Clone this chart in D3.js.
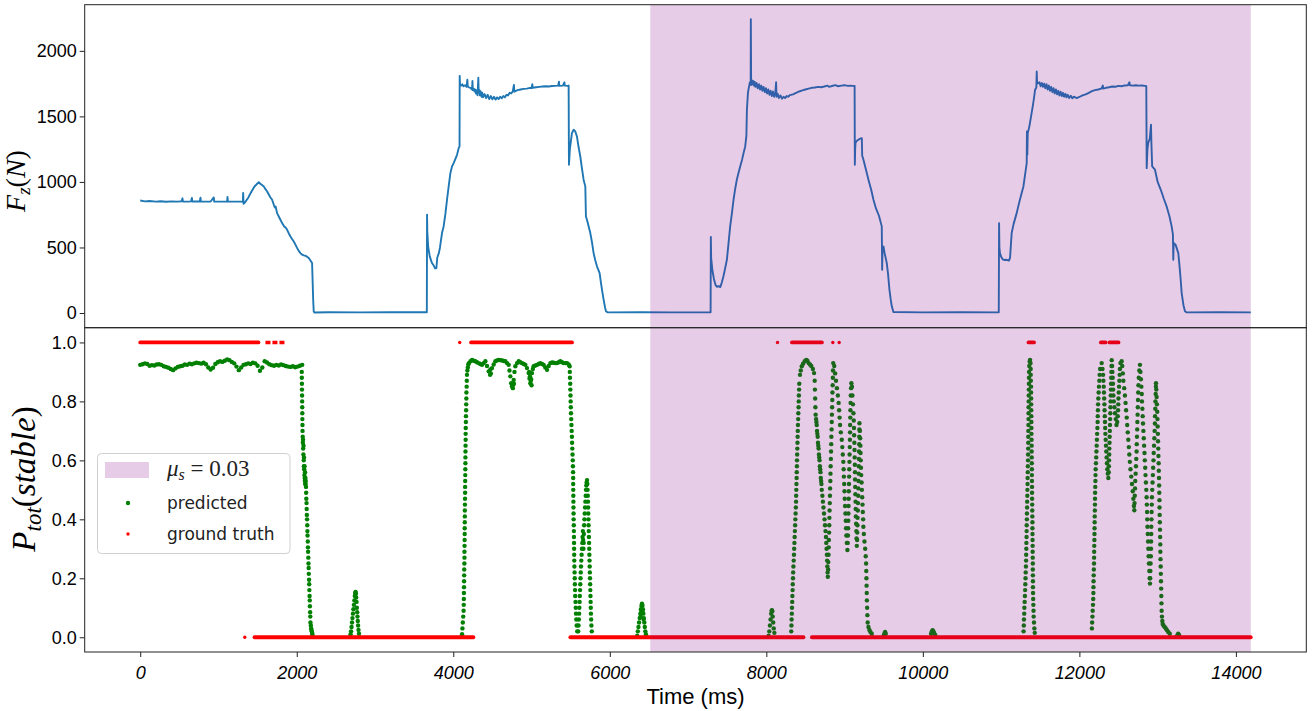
<!DOCTYPE html>
<html>
<head>
<meta charset="utf-8">
<script src="https://cdn.jsdelivr.net/npm/d3@7"></script>
<style>
  body { margin: 0; background: #fff; }
  svg { display: block; }
</style>
</head>
<body>
<svg width="1314" height="711"></svg>
<script>
// ---- values ----
var xTicks = [0, 2000, 4000, 6000, 8000, 10000, 12000, 14000];
var forceTicks = [0, 500, 1000, 1500, 2000];
var probTicks = [0, 0.2, 0.4, 0.6, 0.8, 1.0];
var shadeStart = 6517, shadeEnd = 14190;

// F_z (N) over time (ms)
var forceTrace = [[0,858],[60,852],[120,855],[200,850],[260,853],[330,849],[400,852],[480,850],[530,853],[540,875],[545,851],[620,850],[650,852],[660,878],[665,851],[760,851],[770,880],[775,850],[900,851],[940,882],[945,850],[1060,850],[1110,851],[1115,885],[1120,850],[1290,850],[1312,848],[1315,915],[1320,833],[1340,845],[1380,880],[1420,925],[1460,965],[1500,990],[1515,998],[1530,988],[1560,975],[1579,966],[1600,945],[1622,927],[1660,885],[1685,864],[1710,820],[1720,805],[1730,812],[1749,762],[1780,725],[1813,686],[1840,660],[1860,650],[1877,635],[1900,605],[1920,584],[1940,565],[1962,546],[1985,520],[2005,495],[2030,470],[2047,457],[2069,445],[2090,440],[2111,437],[2130,430],[2154,419],[2175,400],[2196,381],[2200,300],[2210,100],[2217,12],[2225,4],[2400,6],[2800,5],[3200,6],[3662,6],
[3665,750],[3668,620],[3680,500],[3700,430],[3728,381],[3750,362],[3768,340],[3784,343],[3795,420],[3805,440],[3815,455],[3830,500],[3856,610],[3877,661],[3900,760],[3920,864],[3940,960],[3963,1067],[3984,1118],[4005,1144],[4030,1180],[4048,1207],[4069,1258],[4080,1271],[4082,1809],[4086,1741],
[4100,1735],[4115,1745],[4130,1730],[4150,1738],[4170,1725],[4180,1780],[4185,1728],[4200,1722],[4220,1718],[4240,1705],[4245,1770],[4250,1700],[4265,1710],[4270,1690],[4280,1705],[4290,1675],[4300,1700],[4310,1660],[4320,1795],[4325,1680],[4335,1700],[4340,1660],[4350,1690],[4360,1650],[4370,1680],[4380,1645],[4400,1670],[4420,1640],[4440,1665],[4460,1632],[4480,1655],[4500,1630],[4520,1650],[4540,1628],[4560,1645],[4580,1632],[4600,1650],[4620,1638],[4640,1655],[4660,1645],[4680,1665],[4700,1660],[4720,1680],[4740,1675],[4760,1690],[4775,1740],[4780,1688],[4820,1700],[4860,1705],[4900,1710],[4940,1712],[4980,1718],[5000,1715],[5010,1745],[5015,1718],[5060,1722],[5100,1725],[5140,1728],[5180,1730],[5220,1728],[5260,1732],[5300,1733],[5340,1735],[5350,1765],[5355,1733],[5400,1735],[5420,1760],[5425,1735],[5460,1733],[5474,1735],
[5478,1131],[5490,1250],[5516,1372],[5538,1398],[5559,1385],[5580,1347],[5600,1270],[5623,1194],[5645,1100],[5665,1017],[5687,966],[5695,737],[5708,711],[5730,660],[5751,610],[5775,530],[5793,457],[5815,400],[5836,356],[5870,305],[5887,229],[5905,160],[5921,102],[5940,40],[5951,13],[5972,5],[6400,6],[6800,5],[7288,5],
[7291,580],[7295,420],[7310,330],[7330,260],[7350,215],[7370,200],[7390,205],[7411,198],[7430,230],[7450,275],[7470,330],[7496,406],[7515,520],[7538,661],[7560,760],[7581,864],[7600,940],[7623,1017],[7645,1070],[7666,1118],[7690,1170],[7709,1220],[7730,1271],[7745,1350],[7752,1550],[7765,1680],[7773,1708],[7790,1760],[7800,1755],[7802,2242],[7806,1740],
[7810,1780],[7820,1745],[7830,1770],[7840,1735],[7850,1765],[7860,1725],[7875,1755],[7890,1715],[7905,1745],[7920,1705],[7935,1735],[7950,1695],[7965,1725],[7980,1685],[7995,1715],[8010,1675],[8025,1705],[8040,1665],[8055,1695],[8070,1655],[8085,1690],[8100,1650],[8115,1680],[8125,1760],[8130,1650],[8145,1672],[8160,1640],[8180,1660],[8200,1635],[8220,1650],[8240,1640],[8260,1655],[8280,1650],[8300,1662],[8340,1668],[8380,1680],[8420,1690],[8460,1698],[8500,1705],[8540,1712],[8580,1718],[8620,1720],[8660,1725],[8700,1722],[8740,1728],[8780,1735],[8800,1725],[8840,1732],[8880,1738],[8920,1730],[8960,1735],[9000,1738],[9040,1733],[9071,1735],[9100,1733],[9128,1733],
[9131,1131],[9135,1250],[9140,1300],[9150,1309],[9170,1320],[9200,1330],[9220,1334],[9225,1200],[9241,1169],[9270,1100],[9305,1017],[9340,940],[9369,864],[9400,800],[9440,740],[9475,661],[9480,330],[9485,500],[9497,508],[9510,460],[9539,381],[9555,300],[9573,178],[9590,100],[9603,51],[9624,8],[10000,5],[10500,6],[10970,5],
[10974,686],[10978,500],[10985,457],[11000,430],[11020,410],[11040,405],[11072,406],[11100,400],[11114,420],[11125,520],[11135,610],[11160,680],[11199,762],[11230,840],[11260,910],[11285,966],[11305,1050],[11327,1144],[11330,1385],[11335,1207],[11340,1372],[11360,1420],[11380,1490],[11404,1576],[11420,1640],[11434,1703],[11450,1720],[11455,1843],[11460,1750],[11476,1754],
[11490,1760],[11505,1730],[11520,1755],[11535,1725],[11550,1750],[11565,1715],[11580,1745],[11595,1705],[11610,1735],[11625,1695],[11640,1725],[11655,1685],[11670,1715],[11685,1675],[11700,1705],[11715,1668],[11730,1695],[11745,1660],[11760,1688],[11775,1655],[11790,1680],[11805,1650],[11820,1672],[11835,1645],[11850,1665],[11870,1640],[11890,1658],[11910,1638],[11930,1650],[11966,1640],[12000,1648],[12040,1660],[12080,1668],[12120,1680],[12160,1692],[12200,1700],[12240,1705],[12280,1712],[12300,1735],[12305,1712],[12340,1718],[12380,1722],[12420,1728],[12460,1726],[12500,1733],[12540,1730],[12580,1736],[12620,1738],[12640,1760],[12645,1737],[12680,1735],[12720,1738],[12760,1735],[12800,1736],[12838,1733],[12855,1730],
[12860,1105],[12870,1250],[12880,1300],[12900,1330],[12915,1436],[12920,1300],[12930,1118],[12966,1093],[13000,1000],[13040,940],[13080,870],[13115,813],[13150,740],[13179,661],[13195,600],[13200,406],[13205,534],[13230,520],[13264,457],[13280,356],[13295,250],[13307,152],[13330,60],[13349,13],[13370,5],[13800,6],[14190,5]];

// predicted P_tot(stable): first hold, sampled every 30 ms from t = 0
var predHoldStep = 30;
var predHold = [.924,.926,.929,.927,.921,.923,.922,.925,.926,.924,.919,.917,.914,.910,.906,.912,.917,.919,.921,.925,.924,.928,.926,.929,.931,.930,.928,.931,.926,.915,.908,.914,.927,.933,.936,.934,.938,.942,.940,.934,.929,.918,.906,.915,.924,.926,.929,.927,.931,.929,.921,.904,.915,.936,.932,.926,.923,.921,.924,.922,.925,.923,.920,.918,.917,.919,.916,.918,.921,.924];

// predicted, first release and small bump
var predFirstDrop = [[2064,.90],[2065,.88],[2066,.86],[2067,.84],[2068,.82],[2069,.80],[2070,.78],[2071,.76],[2072,.74],[2073,.72],[2074,.70],
[2076,.68],[2078,.66],[2080,.67],[2082,.64],[2085,.62],[2087,.65],[2089,.60],[2091,.58],[2093,.61],[2095,.57],[2098,.55],[2100,.58],[2102,.54],[2104,.53],[2106,.56],[2108,.52],[2111,.54],[2113,.52],[2115,.53],[2118,.51],
[2120,.49],[2122,.47],[2125,.455],[2127,.435],[2129,.415],[2132,.40],[2134,.38],[2136,.36],[2138,.345],[2141,.325],[2143,.305],[2145,.29],[2148,.27],[2150,.25],[2152,.235],[2154,.215],[2157,.195],[2159,.18],[2161,.16],[2164,.14],[2166,.125],[2168,.105],[2171,.085],[2173,.07],[2175,.05],
[2180,.04],[2184,.03],[2188,.025],[2192,.02],[2196,.015],[2200,.01],
[2688,.01],[2694,.02],[2700,.035],[2706,.05],[2712,.065],[2718,.08],[2724,.095],[2730,.11],[2736,.125],[2742,.14],[2747,.15],[2752,.154],[2756,.148],[2760,.135],[2764,.12],[2768,.10],[2772,.085],[2776,.07],[2780,.055],[2784,.04],[2789,.025],[2795,.012]];

// predicted, second grasp
var predSecondHold = [[4112,.01],[4117,.03],[4122,.05],[4127,.07],[4132,.09],[4134,.11],[4135,.13],[4136,.15],[4137,.17],[4138,.19],[4139,.21],[4140,.23],[4142,.25],[4143,.27],[4143,.29],[4144,.31],[4145,.33],[4146,.35],[4146,.37],[4147,.39],[4148,.41],[4148,.43],[4149,.45],[4150,.47],[4151,.49],[4151,.51],[4152,.53],[4153,.55],[4154,.57],[4155,.59],[4155,.61],[4156,.63],[4157,.65],[4158,.67],[4158,.69],[4159,.71],[4161,.73],[4162,.75],[4164,.77],[4165,.79],[4167,.81],[4168,.83],[4171,.85],[4173,.87],[4175,.89],[4180,.905],[4186,.915],[4192,.925],
[4200,.930],[4220,.936],[4240,.941],[4261,.938],[4282,.936],[4303,.933],[4325,.930],[4346,.927],[4367,.924],[4389,.930],[4410,.936],[4431,.920],[4453,.902],[4470,.89],[4474,.908],[4480,.895],[4495,.913],[4516,.925],[4538,.936],[4559,.939],[4580,.941],[4601,.940],[4623,.939],[4644,.937],[4665,.936],[4687,.930],[4708,.924],[4718,.905],[4729,.885],[4740,.862],[4751,.851],[4760,.855],[4761,.845],[4772,.873],[4775,.86],[4782,.900],[4793,.919],[4815,.930],[4836,.936],[4857,.933],[4878,.930],[4900,.927],[4921,.924],[4942,.913],[4963,.896],[4970,.90],[4974,.878],[4980,.885],[4985,.862],[4990,.87],[4995,.875],[5000,.855],[5006,.896],[5017,.910],[5027,.919],[5049,.922],[5070,.924],[5091,.927],[5112,.930],[5134,.927],[5155,.924],[5176,.915],[5198,.907],[5219,.920],[5240,.930],[5262,.932],[5283,.931],[5304,.930],[5325,.930],[5346,.933],[5368,.936],[5389,.933],[5410,.930],[5432,.930],[5453,.930],[5475,.925],[5487,.919],
[5489,.90],[5491,.88],[5494,.86],[5496,.84],[5498,.82],[5500,.80],[5502,.78],[5504,.76],[5507,.74],[5510,.72],[5513,.70],[5516,.68],[5518,.66],[5521,.64],[5524,.62],[5527,.60],[5529,.58],[5531,.56],[5532,.54],[5532,.52],[5533,.50],[5534,.48],[5535,.46],[5536,.44],[5537,.42],[5538,.40],[5540,.38],[5541,.36],[5542,.34],[5543,.32],[5544,.30],[5545,.28],[5546,.26],[5548,.24],[5550,.22],[5552,.20],[5554,.18],[5556,.16],[5558,.14],[5562,.12],[5565,.10],[5568,.08],[5572,.06],[5577,.04],[5584,.02],
[5596,.02],[5600,.04],[5604,.06],[5608,.08],[5611,.10],[5614,.12],[5617,.14],[5620,.16],[5623,.18],[5626,.20],[5629,.22],[5632,.24],[5636,.26],[5640,.28],[5644,.30],[5648,.32],[5652,.34],[5656,.36],[5660,.33],[5663,.30],[5666,.32],[5669,.35],[5672,.38],[5676,.40],[5680,.42],[5684,.44],[5688,.46],[5692,.48],[5696,.50],[5700,.515],[5704,.525],[5709,.533],[5713,.52],[5716,.50],[5719,.48],[5721,.46],[5723,.44],[5725,.42],[5727,.40],[5729,.38],[5731,.36],[5733,.34],[5735,.32],[5737,.30],[5739,.28],[5741,.26],[5743,.24],[5745,.22],[5747,.20],[5749,.18],[5751,.16],[5753,.14],[5755,.12],[5757,.10],[5759,.08],[5762,.06],[5765,.04],[5770,.02],
[6350,.005],[6358,.02],[6366,.035],[6374,.05],[6382,.065],[6390,.08],[6394,.07],[6398,.095],[6402,.09],[6405,.107],[6411,.114],[6417,.108],[6420,.09],[6423,.095],[6429,.08],[6432,.06],[6435,.065],[6441,.05],[6447,.035],[6454,.02],[6462,.01]];

// predicted, third grasp (inside the shaded span)
var predThirdHold = [[8030,.005],[8038,.02],[8046,.04],[8054,.06],[8062,.08],[8068,.09],[8072,.092],[8076,.088],[8082,.07],[8088,.05],[8095,.03],[8103,.015],
[8318,.02],[8321,.04],[8323,.06],[8326,.08],[8328,.10],[8331,.12],[8333,.14],[8336,.16],[8338,.18],[8341,.20],[8343,.22],[8346,.24],[8350,.26],[8353,.28],[8356,.30],[8359,.32],[8362,.34],[8365,.36],[8368,.38],[8371,.40],[8374,.42],[8377,.44],[8380,.46],[8381,.48],[8383,.50],[8385,.52],[8387,.54],[8389,.56],[8391,.58],[8392,.60],[8394,.62],[8396,.64],[8398,.66],[8400,.68],[8402,.70],[8404,.72],[8407,.74],[8409,.76],[8412,.78],[8414,.80],[8416,.82],[8419,.84],[8421,.86],
[8430,.89],[8440,.905],[8453,.919],[8470,.928],[8490,.936],[8510,.941],[8525,.938],[8540,.93],[8558,.925],[8575,.92],[8595,.91],[8610,.896],
[8618,.87],[8621,.84],[8624,.81],[8627,.78],[8630,.755],[8636,.74],[8640,.73],[8644,.72],[8648,.70],[8652,.69],[8656,.68],[8660,.66],[8664,.65],[8668,.64],[8672,.62],[8676,.61],[8680,.60],[8684,.58],[8688,.57],[8692,.56],[8696,.54],[8700,.53],[8704,.52],[8708,.50],[8716,.48],[8723,.46],[8730,.44],[8737,.42],[8744,.40],[8750,.38],[8756,.36],[8762,.34],[8766,.32],[8770,.30],[8774,.28],[8777,.26],[8780,.24],[8783,.22],[8786,.205],
[8790,.23],[8792,.255],[8795,.28],[8797,.305],[8799,.33],[8802,.355],[8804,.38],[8806,.405],[8808,.43],[8811,.455],[8813,.48],[8815,.505],[8818,.53],[8820,.555],[8822,.58],[8825,.605],[8827,.63],[8829,.655],[8831,.68],[8834,.705],[8836,.73],[8838,.755],[8841,.78],[8843,.805],[8845,.83],[8848,.855],[8850,.88],[8852,.905],[8855,.93],
[8868,.92],[8879,.895],[8890,.87],[8902,.845],[8914,.82],[8924,.795],[8930,.77],[8936,.745],[8942,.72],[8952,.695],[8964,.67],[8971,.645],[8977,.62],[8984,.595],[8988,.57],[8991,.545],[8995,.52],[8999,.495],[9002,.47],[9006,.445],[9011,.42],[9015,.395],[9019,.37],[9023,.345],[9029,.32],[9036,.296],
[9040,.32],[9043,.345],[9045,.37],[9047,.395],[9049,.42],[9051,.445],[9053,.47],[9054,.495],[9056,.52],[9058,.545],[9060,.57],[9062,.595],[9064,.62],[9066,.645],[9068,.67],[9070,.695],[9071,.72],[9073,.745],[9075,.77],[9077,.795],[9079,.82],[9083,.845],[9087,.862],
[9094,.85],[9100,.82],[9107,.79],[9113,.76],[9117,.735],[9120,.71],[9122,.685],[9125,.66],[9127,.635],[9129,.61],[9131,.585],[9133,.56],[9134,.535],[9136,.51],[9138,.485],[9140,.46],[9142,.435],[9144,.41],[9147,.385],[9150,.36],[9153,.335],[9156,.31],
[9160,.33],[9162,.355],[9164,.38],[9166,.405],[9169,.43],[9171,.455],[9174,.48],[9176,.505],[9178,.53],[9180,.555],[9181,.58],[9183,.605],[9185,.63],[9187,.655],[9188,.68],[9189,.705],[9190,.726],
[9195,.70],[9199,.675],[9202,.65],[9204,.625],[9206,.60],[9209,.575],[9213,.55],[9217,.525],[9221,.50],[9225,.475],[9229,.45],[9233,.425],[9237,.40],[9240,.375],[9246,.35],[9254,.325],[9263,.30],[9270,.275],[9275,.25],[9277,.225],[9279,.20],[9281,.175],[9283,.15],[9285,.125],[9288,.10],[9291,.075],[9295,.05],[9305,.035],[9317,.025],[9330,.018],[9347,.012],
[9500,.006],[9510,.014],[9518,.018],[9526,.012],[10105,.012],[10115,.02],[10125,.024],[10135,.02],[10145,.014],[10158,.008]];

// predicted, fourth grasp
var predFourthHold = [[11287,.02],[11290,.04],[11292,.06],[11295,.08],[11297,.10],[11301,.12],[11304,.14],[11307,.16],[11309,.18],[11312,.20],[11314,.22],[11317,.24],[11319,.26],[11320,.28],[11322,.30],[11323,.32],[11325,.34],[11326,.36],[11327,.38],[11329,.40],[11330,.42],[11332,.44],[11333,.46],[11335,.48],[11336,.50],[11338,.52],[11339,.54],[11341,.56],[11342,.58],[11344,.60],[11345,.62],[11346,.64],[11347,.66],[11347,.68],[11348,.70],[11349,.72],[11350,.74],[11351,.76],[11351,.78],[11352,.80],[11353,.82],[11354,.84],[11355,.86],[11356,.88],[11357,.90],[11360,.92],[11365,.935],[11370,.941],
[11376,.93],[11378,.91],[11379,.89],[11380,.87],[11382,.85],[11383,.83],[11384,.81],[11384,.79],[11385,.77],[11386,.75],[11387,.73],[11387,.71],[11388,.69],[11389,.67],[11390,.65],[11390,.63],[11391,.61],[11392,.59],[11393,.57],[11393,.55],[11394,.53],[11395,.51],[11395,.49],[11396,.47],[11397,.45],[11398,.43],[11399,.41],[11400,.39],[11400,.37],[11401,.35],[11402,.33],[11403,.31],[11403,.29],[11404,.27],[11405,.25],[11405,.23],[11406,.21],[11407,.19],[11407,.17],[11408,.15],[11410,.13],[11412,.11],[11414,.09],[11416,.07],[11420,.05],[11425,.03],[11430,.015],
[12160,.03],[12163,.05],[12167,.07],[12170,.09],[12174,.11],[12177,.13],[12179,.15],[12180,.17],[12181,.19],[12183,.21],[12185,.23],[12187,.25],[12188,.27],[12189,.29],[12190,.31],[12192,.33],[12193,.35],[12194,.37],[12195,.39],[12196,.41],[12198,.43],[12199,.45],[12200,.47],[12201,.49],[12203,.51],[12205,.53],[12206,.55],[12208,.57],[12212,.59],[12215,.61],[12218,.63],[12221,.65],[12224,.67],[12227,.69],[12230,.71],[12233,.73],[12235,.75],[12237,.77],[12239,.79],[12242,.81],[12246,.83],[12250,.85],[12255,.87],[12259,.89],[12265,.91],[12285,.93],
[12295,.91],[12303,.89],[12307,.87],[12311,.85],[12314,.83],[12317,.81],[12320,.79],[12322,.77],[12325,.75],[12327,.73],[12330,.71],[12332,.69],[12336,.67],[12340,.65],[12344,.63],[12348,.61],[12352,.59],[12357,.57],[12363,.555],[12370,.54],
[12375,.56],[12377,.58],[12379,.60],[12381,.62],[12383,.64],[12385,.66],[12387,.68],[12389,.70],[12391,.72],[12393,.74],[12395,.76],[12397,.78],[12399,.80],[12401,.82],[12403,.84],[12405,.86],[12407,.88],[12409,.90],[12411,.92],[12413,.94],
[12418,.92],[12422,.90],[12426,.88],[12429,.86],[12432,.84],[12435,.82],[12440,.80],[12448,.78],[12455,.76],[12464,.74],[12474,.72],[12484,.73],[12490,.75],[12494,.77],[12497,.79],[12499,.81],[12503,.83],[12507,.85],[12511,.87],[12515,.89],[12518,.91],[12525,.93],[12540,.936],
[12548,.92],[12555,.895],[12562,.87],[12573,.845],[12582,.82],[12590,.795],[12597,.77],[12605,.745],[12611,.72],[12618,.695],[12625,.67],[12632,.645],[12638,.62],[12645,.595],[12653,.57],[12663,.545],[12672,.52],[12682,.495],[12690,.47],[12697,.445],[12702,.431],
[12705,.455],[12708,.48],[12711,.505],[12714,.53],[12719,.555],[12723,.58],[12727,.605],[12731,.63],[12733,.655],[12736,.68],[12739,.705],[12741,.73],[12744,.755],[12747,.78],[12749,.805],[12752,.83],[12755,.855],[12759,.88],[12766,.905],[12774,.924],
[12780,.90],[12786,.875],[12792,.85],[12797,.825],[12800,.80],[12805,.775],[12809,.75],[12813,.725],[12818,.70],[12823,.675],[12827,.65],[12832,.625],[12836,.60],[12841,.575],[12845,.55],[12850,.525],[12855,.50],[12859,.475],[12862,.45],[12865,.425],[12867,.40],[12870,.375],[12874,.35],[12878,.325],[12881,.30],[12885,.275],[12889,.25],[12894,.225],[12898,.20],[12902,.182],
[12905,.20],[12907,.225],[12910,.25],[12913,.275],[12915,.30],[12916,.325],[12918,.35],[12919,.375],[12921,.40],[12923,.425],[12925,.45],[12927,.475],[12931,.50],[12935,.525],[12939,.55],[12943,.575],[12947,.60],[12950,.625],[12954,.65],[12958,.675],[12962,.70],[12965,.725],[12967,.75],[12970,.775],[12972,.80],[12975,.825],[12978,.85],[12979,.862],
[12983,.84],[12987,.815],[12991,.79],[12995,.765],[12998,.74],[13000,.715],[13003,.69],[13005,.665],[13008,.64],[13010,.615],[13013,.59],[13015,.565],[13017,.54],[13019,.515],[13021,.49],[13023,.465],[13024,.44],[13026,.415],[13028,.39],[13030,.365],[13032,.34],[13034,.315],[13035,.29],[13037,.265],[13039,.24],[13041,.215],[13043,.19],[13045,.165],[13047,.14],[13049,.115],[13051,.09],[13055,.07],[13060,.055],[13065,.045],[13075,.04],[13090,.035],[13105,.03],[13120,.024],[13136,.018],[13155,.012],
[13250,.006],[13262,.012],[13274,.008]];

// ground truth: runs [start ms, end ms, value] and lone samples [ms, value]
var truthRuns = [[0,1511,1],[4227,5517,1],[8327,8710,1],[11350,11420,1],[12275,12335,1],[12385,12500,1],
                 [1460,4257,0],[5496,8475,0],[8582,14190,0]];
var truthSparseRuns = [[1600,1855,1]];
var truthDots = [[1336,0],[4082,1],[8143,1],[8850,1],[8931,1]];

// ---- drawing ----
var svg = d3.select("svg");
var left = 84.7, right = 1306.3;
var topY0 = 4.7, topY1 = 327.7, botY1 = 652;

var x = d3.scaleLinear().domain([-709.5, 14899.5]).range([left, right]);
var yF = d3.scaleLinear().domain([-112, 2352]).range([topY1, topY0]);
var yP = d3.scaleLinear().domain([-0.05, 1.05]).range([botY1, topY1]);

var shadeFill = "#800080";

svg.append("defs").append("clipPath").attr("id", "clipTop")
   .append("rect").attr("x", left).attr("y", topY0).attr("width", right - left).attr("height", topY1 - topY0);
svg.select("defs").append("clipPath").attr("id", "clipBot")
   .append("rect").attr("x", left).attr("y", topY1).attr("width", right - left).attr("height", botY1 - topY1);

// top panel: force trace
var gTop = svg.append("g").attr("clip-path", "url(#clipTop)");
gTop.append("path")
    .datum(forceTrace)
    .attr("fill", "none")
    .attr("stroke", "#1f77b4")
    .attr("stroke-width", 1.9)
    .attr("stroke-linejoin", "round")
    .attr("d", d3.line().x(function(d){ return x(d[0]); }).y(function(d){ return yF(d[1]); }));
gTop.append("rect")
    .attr("x", x(shadeStart)).attr("y", topY0)
    .attr("width", x(shadeEnd) - x(shadeStart)).attr("height", topY1 - topY0)
    .attr("fill", shadeFill).attr("fill-opacity", 0.2);

// bottom panel: predicted + ground truth
var predicted = predHold.map(function(p, i){ return [i * predHoldStep, p]; })
    .concat(predFirstDrop, predSecondHold, predThirdHold, predFourthHold);

var gBot = svg.append("g").attr("clip-path", "url(#clipBot)");
gBot.selectAll(".pred")
    .data(predicted)
    .enter().append("circle")
    .attr("class", "pred")
    .attr("cx", function(d){ return x(d[0]); })
    .attr("cy", function(d){ return yP(d[1]); })
    .attr("r", 2.2)
    .attr("fill", "green");

gBot.selectAll(".run")
    .data(truthRuns)
    .enter().append("line")
    .attr("class", "run")
    .attr("x1", function(d){ return x(d[0]); })
    .attr("x2", function(d){ return x(d[1]); })
    .attr("y1", function(d){ return yP(d[2]); })
    .attr("y2", function(d){ return yP(d[2]); })
    .attr("stroke", "red").attr("stroke-width", 3.8).attr("stroke-linecap", "round");
gBot.selectAll(".srun")
    .data(truthSparseRuns)
    .enter().append("line")
    .attr("class", "srun")
    .attr("x1", function(d){ return x(d[0]); })
    .attr("x2", function(d){ return x(d[1]); })
    .attr("y1", function(d){ return yP(d[2]); })
    .attr("y2", function(d){ return yP(d[2]); })
    .attr("stroke", "red").attr("stroke-width", 3.4).attr("stroke-dasharray", "5 2");
gBot.selectAll(".tdot")
    .data(truthDots)
    .enter().append("circle")
    .attr("class", "tdot")
    .attr("cx", function(d){ return x(d[0]); })
    .attr("cy", function(d){ return yP(d[1]); })
    .attr("r", 1.7)
    .attr("fill", "red");

gBot.append("rect")
    .attr("x", x(shadeStart)).attr("y", topY1)
    .attr("width", x(shadeEnd) - x(shadeStart)).attr("height", botY1 - topY1)
    .attr("fill", shadeFill).attr("fill-opacity", 0.2);

// frames
[[topY0, topY1], [topY1, botY1]].forEach(function(r){
    svg.append("rect")
       .attr("x", left).attr("y", r[0])
       .attr("width", right - left).attr("height", r[1] - r[0])
       .attr("fill", "none").attr("stroke", "#222").attr("stroke-width", 1);
});

// axes
function styleAxis(g, italic) {
    g.select(".domain").remove();
    g.selectAll(".tick line").attr("stroke", "#222");
    g.selectAll(".tick text")
     .attr("fill", "#000")
     .style("font-family", "'Liberation Sans', Arial, sans-serif")
     .style("font-size", "18px")
     .style("font-style", italic ? "italic" : "normal");
}
svg.append("g").attr("transform", "translate(" + left + ",0)")
   .call(d3.axisLeft(yF).tickValues(forceTicks).tickSize(5).tickPadding(3).tickFormat(d3.format("d")))
   .call(function(g){ styleAxis(g, false); });
svg.append("g").attr("transform", "translate(" + left + ",0)")
   .call(d3.axisLeft(yP).tickValues(probTicks).tickSize(5).tickPadding(3).tickFormat(d3.format(".1f")))
   .call(function(g){ styleAxis(g, false); });
svg.append("g").attr("transform", "translate(0," + botY1 + ")")
   .call(d3.axisBottom(x).tickValues(xTicks).tickSize(5).tickPadding(9).tickFormat(d3.format("d")))
   .call(function(g){ styleAxis(g, true); });

// axis titles
svg.append("text")
   .attr("x", (left + right) / 2).attr("y", 704)
   .attr("text-anchor", "middle")
   .style("font-family", "'Liberation Sans', Arial, sans-serif")
   .style("font-size", "22px")
   .text("Time (ms)");

var fz = svg.append("text")
   .attr("transform", "translate(25,181) rotate(-90)")
   .attr("text-anchor", "middle")
   .style("font-family", "'Liberation Serif', 'Times New Roman', serif")
   .style("font-size", "28px");
fz.append("tspan").style("font-style", "italic").text("F");
fz.append("tspan").style("font-style", "italic").style("font-size", "19px").attr("dy", 5).text("z");
fz.append("tspan").attr("dy", -5).text("(");
fz.append("tspan").style("font-style", "italic").text("N");
fz.append("tspan").text(")");

var pt = svg.append("text")
   .attr("transform", "translate(35,479) rotate(-90)")
   .attr("text-anchor", "middle")
   .style("font-family", "'Liberation Serif', 'Times New Roman', serif")
   .style("font-size", "33px");
pt.append("tspan").style("font-style", "italic").text("P");
pt.append("tspan").style("font-style", "italic").style("font-size", "23px").attr("dy", 6).text("tot");
pt.append("tspan").attr("dy", -6).text("(");
pt.append("tspan").style("font-style", "italic").text("stable");
pt.append("tspan").text(")");

// legend
var lg = svg.append("g");
lg.append("rect")
  .attr("x", 97.5).attr("y", 453.5).attr("width", 192.5).attr("height", 100)
  .attr("rx", 4).attr("fill", "#fff").attr("fill-opacity", 0.8)
  .attr("stroke", "#d0d0d0").attr("stroke-width", 1);
lg.append("rect")
  .attr("x", 105).attr("y", 462).attr("width", 44).attr("height", 16)
  .attr("fill", shadeFill).attr("fill-opacity", 0.2);
var mu = lg.append("text").attr("x", 167).attr("y", 476)
  .style("font-family", "'Liberation Serif', 'Times New Roman', serif")
  .style("font-size", "23px").attr("fill", "#222");
mu.append("tspan").style("font-style", "italic").text("\u03bc");
mu.append("tspan").style("font-style", "italic").style("font-size", "16px").attr("dy", 4).text("s");
mu.append("tspan").attr("dy", -4).text(" = 0.03");
lg.append("circle").attr("cx", 128).attr("cy", 503).attr("r", 2.2).attr("fill", "green");
lg.append("circle").attr("cx", 128).attr("cy", 534).attr("r", 1.7).attr("fill", "red");
lg.append("text").attr("x", 167).attr("y", 509)
  .style("font-family", "'DejaVu Sans', sans-serif").style("font-size", "17px").attr("fill", "#222")
  .text("predicted");
lg.append("text").attr("x", 167).attr("y", 540)
  .style("font-family", "'DejaVu Sans', sans-serif").style("font-size", "17px").attr("fill", "#222")
  .text("ground truth");
</script>
</body>
</html>
